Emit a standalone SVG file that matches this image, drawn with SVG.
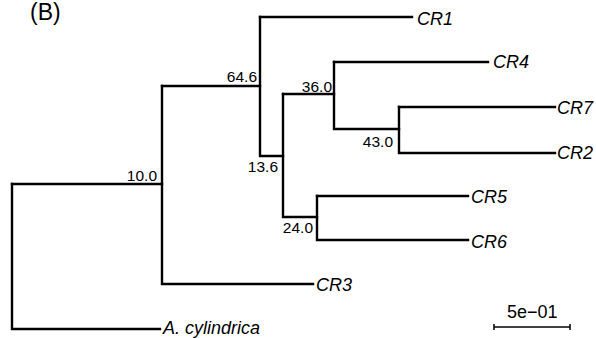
<svg xmlns="http://www.w3.org/2000/svg" width="596" height="338" viewBox="0 0 596 338">
<style>
.br{fill:none;stroke:#000;stroke-width:2.4;stroke-linecap:square}
.lf{font-family:"Liberation Sans",Arial,sans-serif;font-size:18px;font-style:italic;fill:#000}
.bs{font-family:"Liberation Sans",Arial,sans-serif;font-size:15.5px;fill:#000;text-anchor:end}
.sc{font-family:"Liberation Sans",Arial,sans-serif;font-size:18px;fill:#000}
</style>
<rect width="596" height="338" fill="#fff"/>
<text x="30" y="20" font-family="Liberation Sans,Arial,sans-serif" font-size="23">(B)</text>
<g id="connectors">
<path class="br" d="M12,184V329H160"/>
<path class="br" d="M12,184H162"/>
<path class="br" d="M162,86V284H313"/>
<path class="br" d="M162,86H260"/>
<path class="br" d="M260,17V156H283"/>
<path class="br" d="M260,17H412"/>
<path class="br" d="M283,94V217H317"/>
<path class="br" d="M283,94H334"/>
<path class="br" d="M334,62V129H399"/>
<path class="br" d="M334,62H488"/>
<path class="br" d="M399,107V153H555"/>
<path class="br" d="M399,107H555"/>
<path class="br" d="M317,196V240H468"/>
<path class="br" d="M317,196H468"/>
</g>
<g id="n10"><text class="bs" x="157" y="181">10.0</text></g>
<g id="n646"><text class="bs" x="257" y="82">64.6</text></g>
<g id="n136"><text class="bs" x="278" y="172">13.6</text></g>
<g id="n360"><text class="bs" x="332" y="92">36.0</text></g>
<g id="n430"><text class="bs" x="393" y="147">43.0</text></g>
<g id="n240"><text class="bs" x="313" y="233">24.0</text></g>
<g id="CR1"><text class="lf" x="417" y="25">CR1</text></g>
<g id="CR4"><text class="lf" x="493" y="68">CR4</text></g>
<g id="CR7"><text class="lf" x="557" y="114">CR7</text></g>
<g id="CR2"><text class="lf" x="557" y="159">CR2</text></g>
<g id="CR5"><text class="lf" x="471" y="203">CR5</text></g>
<g id="CR6"><text class="lf" x="471" y="248">CR6</text></g>
<g id="CR3"><text class="lf" x="316" y="291">CR3</text></g>
<g id="Acyl"><text class="lf" x="163" y="334">A. cylindrica</text></g>
<g id="scale">
<path fill="none" stroke="#000" stroke-width="1.5" d="M494,327H570M494,324V330M570,324V330"/>
<text class="sc" x="507" y="318">5e−01</text>
</g>
</svg>
